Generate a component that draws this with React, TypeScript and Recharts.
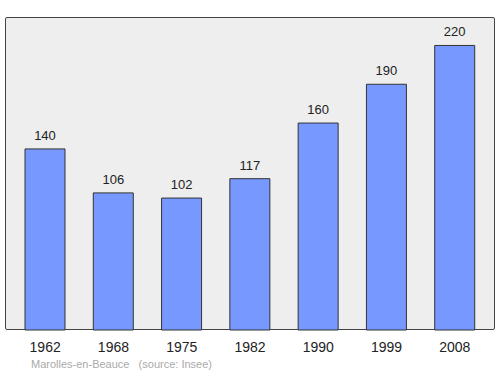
import React from 'react'
import { BarChart, Bar, XAxis, YAxis, LabelList } from 'recharts'

const years = ['1962', '1968', '1975', '1982', '1990', '1999', '2008']
const population = [140, 106, 102, 117, 160, 190, 220]

const data = years.map((y, i) => ({ year: y, pop: population[i] }))

const FONT = '"Liberation Sans", Arial, sans-serif'

export default function App() {
  return (
    <div style={{ position: 'absolute', left: 0, top: 0, width: 500, height: 374, background: '#fff', fontFamily: FONT }}>
      <div
        style={{
          position: 'absolute',
          left: 5,
          top: 17,
          width: 490,
          height: 313,
          boxSizing: 'border-box',
          border: '1.5px solid #444',
          borderRadius: 2,
          background: '#eeeeee',
        }}
      />
      <div style={{ position: 'absolute', left: 0, top: 0 }}>
        <BarChart width={500} height={374} data={data} margin={{ top: 17, right: 5, bottom: 14, left: 5 }}>
          <XAxis
            dataKey="year"
            axisLine={false}
            tickLine={false}
            height={30}
            tickMargin={6}
            padding={{ left: 6, right: 6 }}
            tick={{ fill: '#222', fontSize: 14, fontFamily: FONT }}
            interval={0}
          />
          <YAxis hide domain={[0, 242]} />
          <Bar dataKey="pop" barSize={40} fill="#7799ff" stroke="#333" strokeWidth={1} isAnimationActive={false}>
            <LabelList dataKey="pop" position="top" offset={9} style={{ fill: '#222', fontSize: 13, fontFamily: FONT }} />
          </Bar>
        </BarChart>
      </div>
      <div style={{ position: 'absolute', left: 31, top: 358, fontSize: 11, color: '#aaa', whiteSpace: 'pre' }}>
        {'Marolles-en-Beauce   (source: Insee)'}
      </div>
    </div>
  )
}
